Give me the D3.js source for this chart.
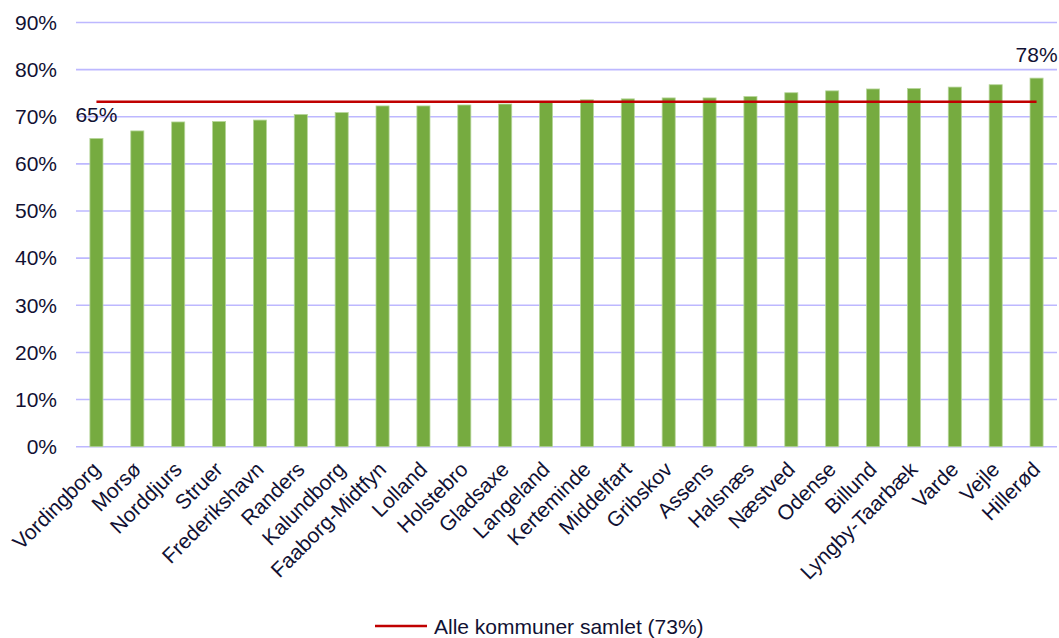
<!DOCTYPE html>
<html>
<head>
<meta charset="utf-8">
<script src="https://cdn.jsdelivr.net/npm/d3@7"></script>
<style>
  html, body { margin: 0; padding: 0; background: #fff; }
  svg { display: block; font-family: "Liberation Sans", Arial, sans-serif; }
</style>
</head>
<body>
<svg id="chart" width="1059" height="638"></svg>
<script>
// Kommuner, sorted by share
const municipalities = [
  "Vordingborg", "Morsø", "Norddjurs", "Struer", "Frederikshavn", "Randers",
  "Kalundborg", "Faaborg-Midtfyn", "Lolland", "Holstebro", "Gladsaxe",
  "Langeland", "Kerteminde", "Middelfart", "Gribskov", "Assens", "Halsnæs",
  "Næstved", "Odense", "Billund", "Lyngby-Taarbæk", "Varde", "Vejle", "Hillerød"
];
const shares = [
  65.4, 67.0, 68.9, 69.0, 69.3, 70.5,
  70.9, 72.3, 72.3, 72.5, 72.7,
  73.1, 73.6, 73.8, 74.0, 74.0, 74.3,
  75.1, 75.5, 75.9, 76.0, 76.3, 76.8, 78.2
];
const allMunicipalities = 73.2;
const yTicks = [0, 10, 20, 30, 40, 50, 60, 70, 80, 90];
const legendLabel = "Alle kommuner samlet";

const svg = d3.select("#chart");
const margin = { left: 76, right: 2, top: 22.5, bottom: 191.3 };
const W = 1059, H = 638;
const fontSize = 21;

const x = d3.scaleBand()
  .domain(municipalities)
  .range([margin.left, W - margin.right])
  .paddingInner(0.68)
  .paddingOuter(0.34);

const y = d3.scaleLinear()
  .domain([0, 90])
  .range([H - margin.bottom, margin.top]);

const textColor = "#111133";
const pct = v => Math.round(v) + "%";

// gridlines
svg.append("g")
  .selectAll("line")
  .data(yTicks)
  .join("line")
  .attr("x1", margin.left)
  .attr("x2", W - margin.right)
  .attr("y1", d => y(d))
  .attr("y2", d => y(d))
  .attr("stroke", "#bdb8ff")
  .attr("stroke-width", 1.6);

// y axis labels
const yAxis = d3.axisLeft(y).tickValues(yTicks).tickFormat(d => d + "%").tickSize(0).tickPadding(19);
const gy = svg.append("g")
  .attr("transform", `translate(${margin.left},0)`)
  .call(yAxis);
gy.select(".domain").remove();
gy.selectAll("text")
  .attr("fill", textColor)
  .attr("font-size", fontSize)
  .attr("font-family", "Liberation Sans, Arial, sans-serif");

// bars
svg.append("g")
  .selectAll("rect")
  .data(municipalities)
  .join("rect")
  .attr("x", d => x(d))
  .attr("width", x.bandwidth())
  .attr("y", (d, i) => y(shares[i]))
  .attr("height", (d, i) => y(0) - y(shares[i]))
  .attr("fill", "#76ab40")
  .attr("stroke", "#b7d69b")
  .attr("stroke-width", 0.8);

// x axis labels, slanted
const xAxis = d3.axisBottom(x).tickSize(0).tickPadding(0);
const gx = svg.append("g")
  .attr("transform", `translate(0,${y(0)})`)
  .call(xAxis);
gx.select(".domain").remove();
gx.selectAll("text")
  .attr("fill", textColor)
  .attr("font-size", fontSize)
  .attr("font-family", "Liberation Sans, Arial, sans-serif")
  .attr("text-anchor", "end")
  .attr("dy", "0")
  .attr("transform", "translate(5,24) rotate(-45)");

// overall average line
const first = municipalities[0], last = municipalities[municipalities.length - 1];
svg.append("line")
  .attr("x1", x(first) + x.bandwidth() / 2)
  .attr("x2", x(last) + x.bandwidth() / 2)
  .attr("y1", y(allMunicipalities))
  .attr("y2", y(allMunicipalities))
  .attr("stroke", "#c00000")
  .attr("stroke-width", 2.5);

// value labels on min and max
[0, municipalities.length - 1].forEach(i => {
  svg.append("text")
    .attr("x", x(municipalities[i]) + x.bandwidth() / 2)
    .attr("y", y(shares[i]) - 16)
    .attr("text-anchor", "middle")
    .attr("fill", textColor)
    .attr("font-size", fontSize)
    .text(pct(shares[i]));
});

// legend
const lg = svg.append("g").attr("transform", "translate(375,626)");
lg.append("line")
  .attr("x1", 0).attr("x2", 52)
  .attr("y1", 0).attr("y2", 0)
  .attr("stroke", "#c00000")
  .attr("stroke-width", 2.5);
lg.append("text")
  .attr("x", 59)
  .attr("y", 7.5)
  .attr("fill", textColor)
  .attr("font-size", fontSize)
  .text(`${legendLabel} (${pct(allMunicipalities)})`);
</script>
</body>
</html>
